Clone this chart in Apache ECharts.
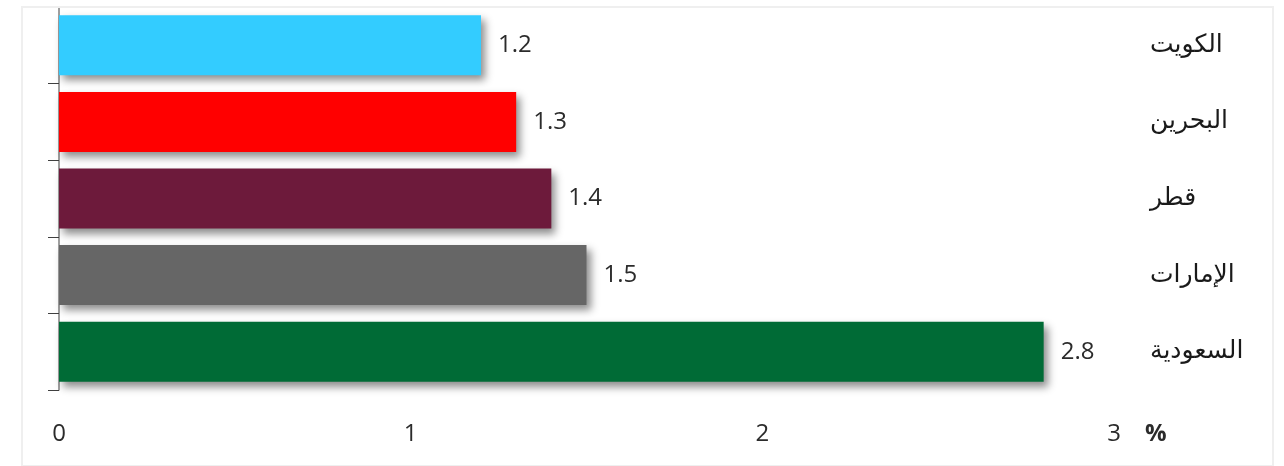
<!DOCTYPE html>
<html>
<head>
<meta charset="utf-8">
<script src="https://cdn.jsdelivr.net/npm/echarts@6/dist/echarts.min.js"></script>
<style>
  html, body { margin: 0; padding: 0; background: #ffffff; }
  #chart { position: absolute; left: 0; top: 0; width: 1284px; height: 466px; }
  #frame { position: absolute; left: 21px; top: 6px; width: 1249px; height: 457px;
           border: 2px solid #efefef; pointer-events: none; }
</style>
</head>
<body>
<div id="chart"></div>
<div id="frame"></div>
<script>
// Countries (top to bottom) and their rates in percent
const countries = ['الكويت', 'البحرين', 'قطر', 'الإمارات', 'السعودية'];
const rates = [1.2, 1.3, 1.4, 1.5, 2.8];
const barColors = ['#33CCFF', '#FF0000', '#6D1A3B', '#666666', '#006B36'];
const xTicks = [0, 1, 2, 3];
const unitLabel = '%';

const chart = echarts.init(document.getElementById('chart'));

chart.setOption({
  animation: false,
  grid: { left: 59, right: 170, top: 7, bottom: 76, containLabel: false },
  xAxis: {
    type: 'value',
    min: xTicks[0],
    max: xTicks[xTicks.length - 1],
    interval: 1,
    axisLine: { show: false },
    axisTick: { show: false },
    splitLine: { show: false },
    axisLabel: {
      margin: 32,
      fontFamily: 'Open Sans',
      fontSize: 24,
      color: '#2b2b2b'
    },
    name: unitLabel,
    nameLocation: 'end',
    nameGap: 31,
    nameTextStyle: {
      fontFamily: 'Open Sans',
      fontWeight: 'bold',
      fontSize: 24,
      color: '#2b2b2b',
      verticalAlign: 'top',
      padding: [32, 0, 0, 0]
    }
  },
  yAxis: [
    {
      type: 'category',
      data: countries,
      inverse: true,
      position: 'left',
      axisLine: { show: true, lineStyle: { color: '#7f7f7f', width: 1.5 } },
      axisTick: { show: true, length: 11, lineStyle: { color: '#404040', width: 1 } },
      axisLabel: { show: false },
      splitLine: { show: false }
    },
    {
      type: 'category',
      data: countries,
      inverse: true,
      position: 'right',
      axisLine: { show: false },
      axisTick: { show: false },
      splitLine: { show: false },
      axisLabel: {
        margin: 36,
        align: 'left',
        fontFamily: 'DejaVu Sans',
        fontSize: 25,
        color: '#1a1a1a'
      }
    }
  ],
  series: [
    {
      type: 'bar',
      yAxisIndex: 0,
      barWidth: 60,
      data: rates.map((v, i) => ({ value: v, itemStyle: { color: barColors[i] } })),
      itemStyle: {
        shadowColor: 'rgba(0,0,0,0.45)',
        shadowBlur: 8,
        shadowOffsetX: 4,
        shadowOffsetY: 5
      },
      label: {
        show: true,
        position: 'right',
        distance: 17,
        fontFamily: 'Open Sans',
        fontSize: 24,
        color: '#2b2b2b'
      }
    }
  ]
});
</script>
</body>
</html>
